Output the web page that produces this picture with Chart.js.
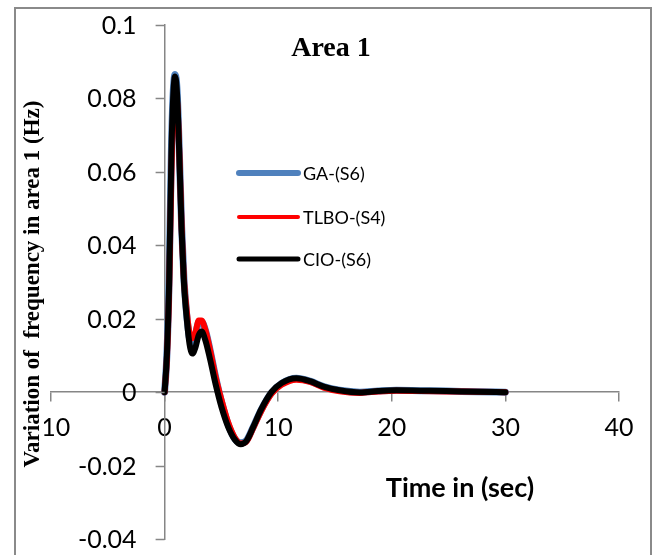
<!DOCTYPE html>
<html>
<head>
<meta charset="utf-8">
<script src="https://cdn.jsdelivr.net/npm/chart.js@4.4.1/dist/chart.umd.min.js"></script>
<style>
html,body{margin:0;padding:0;background:#fff;}
canvas{display:block;}
</style>
</head>
<body>
<canvas id="c" width="653" height="555"></canvas>
<script>
const time = [0, 0.2, 0.4, 0.6, 0.75, 0.92, 1.1, 1.3, 1.5, 1.7, 1.95, 2.2, 2.45, 2.7, 3.0, 3.25, 3.6, 4.0, 4.5, 5.0, 5.6, 6.2, 6.7, 7.2, 7.8, 8.5, 9.4, 10.3, 11.6, 12.8, 14, 15.4, 17.2, 18.8, 20.4, 22.5, 24.8, 27.5, 30];
const gaS6 = [0, 0.01, 0.031, 0.066, 0.081, 0.0865, 0.082, 0.065, 0.045, 0.031, 0.021, 0.0145, 0.0135, 0.0155, 0.019, 0.0192, 0.0168, 0.0115, 0.004, -0.0025, -0.0088, -0.0128, -0.0138, -0.0132, -0.0095, -0.0048, -0.0002, 0.0024, 0.0038, 0.003, 0.0015, 0.0005, 0, 0.0003, 0.0005, 0.0004, 0.0003, 0.0001, 0];
const tlboS4 = [0, 0.009, 0.028, 0.06, 0.075, 0.08, 0.079, 0.065, 0.045, 0.031, 0.022, 0.016, 0.0147, 0.016, 0.0195, 0.0195, 0.0168, 0.0115, 0.004, -0.002, -0.0083, -0.0125, -0.014, -0.0135, -0.0098, -0.0052, -0.0005, 0.002, 0.0034, 0.0028, 0.0012, 0.0002, -0.0002, 0.0002, 0.0004, 0.0003, 0.0002, 0.0001, 0];
const cioS6 = [0, 0.01, 0.03, 0.065, 0.08, 0.086, 0.081, 0.064, 0.044, 0.03, 0.02, 0.013, 0.0105, 0.012, 0.0155, 0.0165, 0.014, 0.009, 0.002, -0.004, -0.0095, -0.013, -0.0142, -0.0133, -0.0095, -0.0047, 0, 0.0025, 0.0038, 0.003, 0.0015, 0.0005, -0.0001, 0.0003, 0.0005, 0.0004, 0.0003, 0.0001, 0];
const seriesNames = ['GA-(S6)', 'TLBO-(S4)', 'CIO-(S6)'];
const xTicks = [-10, 0, 10, 20, 30, 40];
const yTicks = [-0.04, -0.02, 0, 0.02, 0.04, 0.06, 0.08, 0.1];
const yTickLabels = ['-0.04', '-0.02', '0', '0.02', '0.04', '0.06', '0.08', '0.1'];
const chartTitle = 'Area 1';
const xTitle = 'Time in (sec)';
const yTitle = 'Variation of  frequency in area 1 (Hz)';

const colors = ['#4f81bd', '#ff0000', '#000000'];
const widths = [7, 6, 6];
const legendWidths = [6, 4, 5];

function pts(arr){ return time.map((t,i)=>({x:t, y:arr[i]})); }

const axisColor = '#868686';
const tickFont = {family: 'Lato', size: 25};

const decor = {
  id: 'decor',
  beforeDraw(chart){
    const ctx = chart.ctx;
    ctx.save();
    ctx.fillStyle = '#fff';
    ctx.fillRect(0,0,chart.width,chart.height);
    ctx.strokeStyle = '#8a8a8a';
    ctx.lineWidth = 2;
    ctx.strokeRect(15, 8, 636, 600);
    ctx.restore();
  },
  afterDraw(chart){
    const ctx = chart.ctx;
    ctx.save();
    const xs = chart.scales.x, ys = chart.scales.y;
    const ax = xs.getPixelForValue(0);
    ctx.strokeStyle = axisColor; ctx.lineWidth = 1.5;
    ctx.fillStyle = '#000';
    ctx.font = '25px Lato';
    ctx.textAlign = 'right'; ctx.textBaseline = 'middle';
    yTicks.forEach((v,i)=>{
      const py = Math.round(ys.getPixelForValue(v)) + 0.5;
      ctx.beginPath(); ctx.moveTo(ax - 9, py); ctx.lineTo(ax, py); ctx.stroke();
      ctx.fillText(yTickLabels[i], ax - 28, py);
    });
    // chart title
    ctx.textAlign = 'center';
    ctx.font = 'bold 28px "Liberation Serif"';
    ctx.fillText(chartTitle, 331, 49);
    // x title
    ctx.font = 'bold 27px Lato';
    ctx.fillText(xTitle, 460, 488);
    // y title (with white box, as in the reference)
    ctx.save();
    ctx.fillStyle = '#fff';
    ctx.fillRect(22, 90, 22, 390);
    ctx.fillStyle = '#000';
    ctx.translate(33, 284);
    ctx.rotate(-Math.PI/2);
    ctx.font = 'bold 23px "Liberation Serif"';
    ctx.fillText(yTitle, 0, 0);
    ctx.restore();
    // legend
    const ly = [173, 217, 259];
    ctx.font = '18px Lato';
    ctx.textAlign = 'left';
    seriesNames.forEach((n,i)=>{
      ctx.strokeStyle = colors[i];
      ctx.lineWidth = legendWidths[i];
      ctx.lineCap = 'round';
      ctx.beginPath(); ctx.moveTo(239, ly[i]); ctx.lineTo(298, ly[i]); ctx.stroke();
      ctx.fillStyle = '#000';
      ctx.fillText(n, 303, ly[i] + 1);
    });
    ctx.restore();
  }
};

new Chart(document.getElementById('c'), {
  type: 'line',
  data: {
    datasets: [
      {label: seriesNames[0], data: pts(gaS6), borderColor: colors[0], borderWidth: widths[0], order: 3},
      {label: seriesNames[1], data: pts(tlboS4), borderColor: colors[1], borderWidth: widths[1], order: 2},
      {label: seriesNames[2], data: pts(cioS6), borderColor: colors[2], borderWidth: widths[2], order: 1}
    ].map(d => Object.assign(d, {pointRadius: 0, fill: false, cubicInterpolationMode: 'monotone', borderCapStyle: 'round', borderJoinStyle: 'round'}))
  },
  options: {
    responsive: false,
    animation: false,
    devicePixelRatio: 1,
    layout: {padding: {left: 51, right: 34, top: 25, bottom: 16}},
    plugins: {legend: {display: false}, title: {display: false}, tooltip: {enabled: false}},
    scales: {
      x: {
        type: 'linear', min: -10, max: 40,
        position: {y: 0},
        afterBuildTicks(s){ s.ticks = xTicks.map(v=>({value:v})); },
        ticks: {font: tickFont, color: '#000', padding: 12, maxRotation: 0},
        grid: {drawOnChartArea: false, drawTicks: true, tickLength: 9, color: axisColor, lineWidth: 1.5},
        border: {display: true, color: axisColor, width: 1.5}
      },
      y: {
        type: 'linear', min: -0.04, max: 0.1,
        position: {x: 0},
        afterBuildTicks(s){ s.ticks = yTicks.map(v=>({value:v})); },
        ticks: {display: false},
        grid: {display: false},
        border: {display: true, color: axisColor, width: 1.5}
      }
    }
  },
  plugins: [decor]
});
</script>
</body>
</html>
